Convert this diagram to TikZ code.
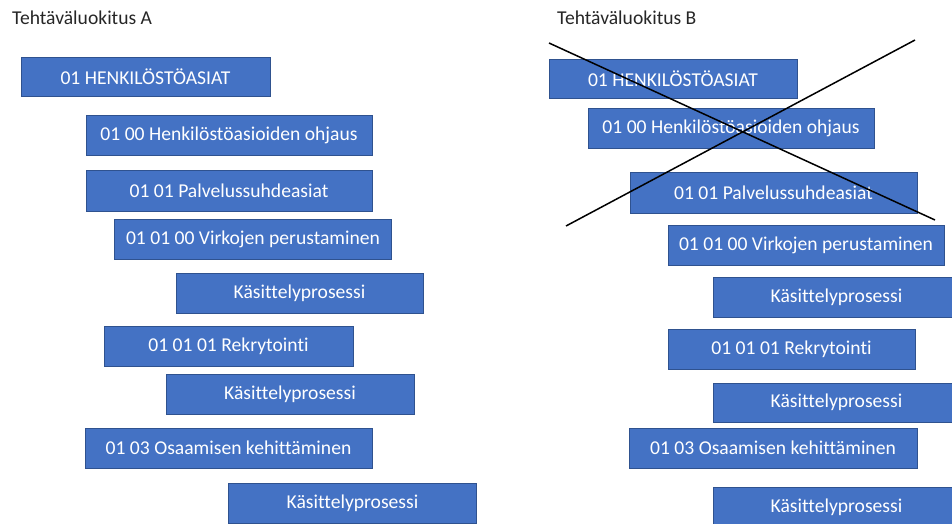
\documentclass[tikz,border=0pt]{standalone}
\usepackage{fontspec}
\setmainfont[Ligatures=NoCommon]{Carlito}
\usetikzlibrary{positioning}
\definecolor{luokkasin}{HTML}{4472C4}
\definecolor{luokkareuna}{HTML}{2F528F}
\definecolor{otsikkoharmaa}{HTML}{262626}

\begin{document}
\begin{tikzpicture}[x=1pt, y=-1pt,
	luokka/.style={rectangle, draw=luokkareuna, line width=0.8pt, fill=luokkasin, text=white, inner sep=0pt, minimum height=40pt, font=\fontsize{19.6}{23}\selectfont},
	otsikko/.style={anchor=west, inner sep=0pt, text=otsikkoharmaa, font=\fontsize{19.6}{23}\selectfont}]
	\clip (0,0) rectangle (952,524);
	\useasboundingbox (0,0) rectangle (952,524);
	
	% Tehtavaluokitus A
	\node[otsikko] (otsA) at (12,18) {Tehtäväluokitus A};
	\node[luokka, minimum width=249pt, minimum height=39pt] (a1) at (145.5,77) {01 HENKILÖSTÖASIAT};
	\node[luokka, minimum width=286pt] (a2) at (229,135) {01 00 Henkilöstöasioiden ohjaus};
	\node[luokka, minimum width=286pt, minimum height=41pt] (a3) at (229,191) {01 01 Palvelussuhdeasiat};
	\node[luokka, minimum width=277pt] (a4) at (253,239) {01 01 00 Virkojen perustaminen};
	\node[luokka, minimum width=247pt] (a5) at (299.5,293) {Käsittelyprosessi};
	\node[luokka, minimum width=249pt] (a6) at (228.5,346.5) {01 01 01 Rekrytointi};
	\node[luokka, minimum width=248pt] (a7) at (290,394) {Käsittelyprosessi};
	\node[luokka, minimum width=287pt] (a8) at (228.5,448) {01 03 Osaamisen kehittäminen};
	\node[luokka, minimum width=248pt] (a9) at (352.5,503) {Käsittelyprosessi};
	
	% Tehtavaluokitus B
	\node[otsikko] (otsB) at (557,18) {Tehtäväluokitus B};
	\node[luokka, minimum width=248pt, minimum height=39pt] (b1) at (673,78.5) {01 HENKILÖSTÖASIAT};
	\node[luokka, minimum width=286pt] (b2) at (731,128) {01 00 Henkilöstöasioiden ohjaus};
	\node[luokka, minimum width=287pt, minimum height=41pt] (b3) at (773.5,192.5) {01 01 Palvelussuhdeasiat};
	\node[luokka, minimum width=276pt] (b4) at (806,245) {01 01 00 Virkojen perustaminen};
	\node[luokka, minimum width=247pt] (b5) at (836.5,297) {Käsittelyprosessi};
	\node[luokka, minimum width=247pt] (b6) at (791.5,349) {01 01 01 Rekrytointi};
	\node[luokka, minimum width=247pt, minimum height=39pt] (b7) at (836.5,402.5) {Käsittelyprosessi};
	\node[luokka, minimum width=288pt] (b8) at (773,448) {01 03 Osaamisen kehittäminen};
	\node[luokka, minimum width=247pt] (b9) at (836.5,507) {Käsittelyprosessi};
	
	% Risti
	\coordinate (ristiA) at (549,43);
	\coordinate (ristiB) at (935,220);
	\coordinate (ristiC) at (566,226);
	\coordinate (ristiD) at (915,40);
	\draw[line width=1.5pt] (ristiA) -- (ristiB);
	\draw[line width=1.5pt] (ristiC) -- (ristiD);
	
\end{tikzpicture}
\end{document}
